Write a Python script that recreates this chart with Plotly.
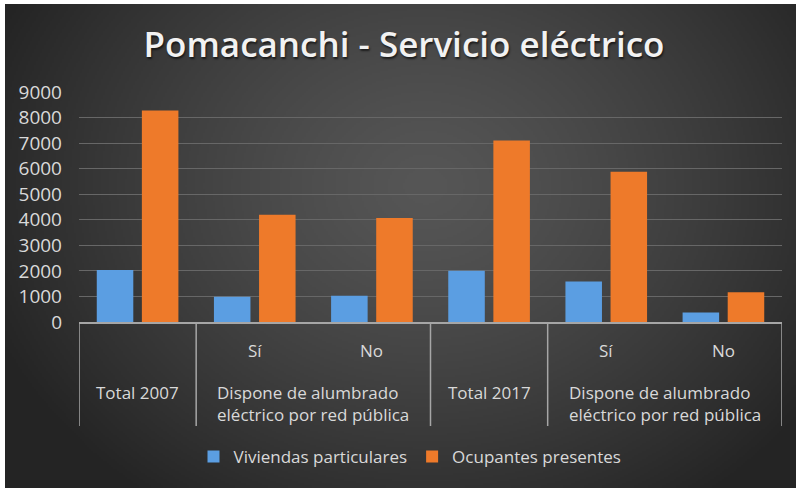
import base64
import struct
import zlib

import numpy as np
import plotly.graph_objects as go

# ---- data -------------------------------------------------------------
sub_labels = ["", "Sí", "No", "", "Sí", "No"]
group_labels = [
    "Total 2007",
    "Dispone de alumbrado<br>eléctrico por red pública",
    "Total 2017",
    "Dispone de alumbrado<br>eléctrico por red pública",
]
group_spans = [(0, 0), (1, 2), (3, 3), (4, 5)]  # first / last category index of each group
viviendas = [2034, 990, 1030, 2010, 1580, 370]
ocupantes = [8280, 4200, 4070, 7100, 5880, 1160]
y_ticks = [0, 1000, 2000, 3000, 4000, 5000, 6000, 7000, 8000, 9000]

# ---- layout geometry (pixels) ------------------------------------------
W, H = 796, 488
ML, MR, MT, MB = 79, 14, 92, 166
PW, PH = W - ML - MR, H - MT - MB

TEXT = "#d9d9d9"
FONT = "Open Sans"


def px_x(px):
    return (px - ML) / PW


def px_y(py):
    return (H - MB - py) / PH


def png_data_uri(arr):
    h, w, _ = arr.shape
    raw = b"".join(b"\x00" + arr[r].tobytes() for r in range(h))

    def chunk(tag, data):
        body = tag + data
        return struct.pack(">I", len(data)) + body + struct.pack(">I", zlib.crc32(body) & 0xFFFFFFFF)

    png = (
        b"\x89PNG\r\n\x1a\n"
        + chunk(b"IHDR", struct.pack(">IIBBBBB", w, h, 8, 2, 0, 0, 0))
        + chunk(b"IDAT", zlib.compress(raw, 9))
        + chunk(b"IEND", b"")
    )
    return "data:image/png;base64," + base64.b64encode(png).decode()


# dark radial backdrop
bx0, by0 = 5, 4
bw, bh = W - bx0, H - by0
gw, gh = 398, 242
yy, xx = np.mgrid[0:gh, 0:gw]
cx, cy = 425 - bx0, 185 - by0
d = np.sqrt(((xx * bw / gw - cx) / 470.0) ** 2 + ((yy * bh / gh - cy) / 390.0) ** 2)
d = np.clip(d, 0, 1)
val = 86 - (86 - 36) * d ** 1.3
bg = np.repeat(val[:, :, None], 3, axis=2).astype(np.uint8)

fig = go.Figure()
fig.add_bar(
    x=list(range(len(viviendas))),
    y=viviendas,
    name="Viviendas particulares",
    marker=dict(color="#5b9ee2", line=dict(width=0)),
)
fig.add_bar(
    x=list(range(len(ocupantes))),
    y=ocupantes,
    name="Ocupantes presentes",
    marker=dict(color="#ee7a2a", line=dict(width=0)),
)

annotations = []
# first row of category labels
for i, lab in enumerate(sub_labels):
    if lab:
        annotations.append(dict(
            text=lab, xref="x", yref="paper", x=i, y=0, yshift=-28,
            xanchor="center", yanchor="middle", showarrow=False,
            font=dict(family=FONT, size=17, color=TEXT),
        ))
# second row (group) labels
for lab, (a, b) in zip(group_labels, group_spans):
    two = "<br>" in lab
    annotations.append(dict(
        text=lab, xref="x", yref="paper", x=(a + b) / 2, y=0,
        yshift=-81 if two else -70, align="left",
        xanchor="center", yanchor="middle", showarrow=False,
        font=dict(family=FONT, size=17, color=TEXT),
    ))

# group dividers below the axis
shapes = []
edges = [-0.5] + [b + 0.5 for (_, b) in group_spans]
for e in edges:
    shapes.append(dict(
        type="line", xref="x", yref="paper", ysizemode="pixel", yanchor=0,
        x0=e, x1=e, y0=0, y1=-104, line=dict(color="#a6a6a6", width=1.5),
    ))

fig.update_layout(
    width=W, height=H,
    margin=dict(l=ML, r=MR, t=MT, b=MB, pad=0),
    paper_bgcolor="#ffffff",
    plot_bgcolor="rgba(0,0,0,0)",
    barmode="group",
    bargap=0.23,
    bargroupgap=0.19,
    font=dict(family=FONT, color=TEXT),
    title=dict(
        text="Pomacanchi - Servicio eléctrico",
        xref="container", yref="container",
        x=404 / W, y=1 - 45 / H, xanchor="center", yanchor="middle",
        font=dict(family=FONT, size=35, color="#f2f2f2", weight=600,
                  shadow="1px 2px 2px rgba(0,0,0,0.6)"),
    ),
    showlegend=True,
    legend=dict(
        orientation="h", xref="paper", yref="paper",
        x=px_x(410), y=px_y(457), xanchor="center", yanchor="middle",
        font=dict(family=FONT, size=17, color=TEXT),
        bgcolor="rgba(0,0,0,0)", itemwidth=30, traceorder="normal",
    ),
    annotations=annotations,
    shapes=shapes,
    images=[dict(
        source=png_data_uri(bg), xref="paper", yref="paper",
        x=px_x(bx0), y=px_y(by0), sizex=bw / PW, sizey=bh / PH,
        xanchor="left", yanchor="top", sizing="stretch", layer="below",
    )],
    xaxis=dict(
        range=[-0.5, 5.5], showticklabels=False, showgrid=False, zeroline=False,
        showline=True, linecolor="#a6a6a6", linewidth=1.5, ticks="", fixedrange=True,
    ),
    yaxis=dict(
        range=[0, 9000], tickvals=y_ticks, ticktext=[str(v) for v in y_ticks],
        showgrid=True, gridcolor="#676767", gridwidth=1.2, zeroline=False,
        showline=False, ticks="", ticklabelstandoff=16,
        tickfont=dict(family=FONT, size=19, color=TEXT),
    ),
)

fig.write_html("out.html")
